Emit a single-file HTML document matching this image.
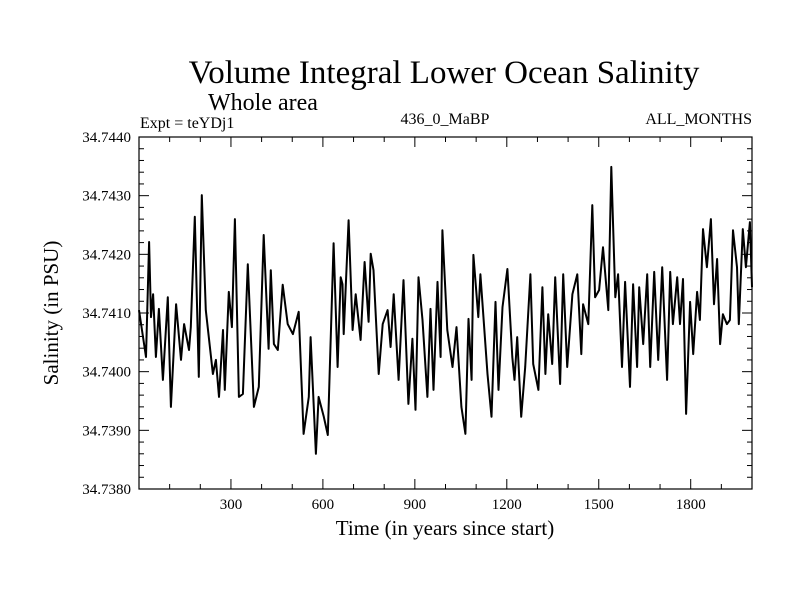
<!DOCTYPE html>
<html><head><meta charset="utf-8"><style>
body{margin:0;background:#fff;}
svg{display:block;font-family:"Liberation Serif",serif;}
</style></head><body>
<svg id="chart" width="800" height="600">
<text x="444" y="83" font-size="33" text-anchor="middle">Volume Integral Lower Ocean Salinity</text>
<text x="263" y="110" font-size="24" text-anchor="middle">Whole area</text>
<text x="140" y="128" font-size="16">Expt = teYDj1</text>
<text x="445" y="124" font-size="16" text-anchor="middle">436_0_MaBP</text>
<text x="752" y="124" font-size="16" text-anchor="end">ALL_MONTHS</text>
<text x="445" y="535" font-size="21" text-anchor="middle">Time (in years since start)</text>
<text transform="translate(58,313) rotate(-90)" font-size="21" text-anchor="middle">Salinity (in PSU)</text>
<g id="ticks"></g>
<g id="series"></g>
<rect x="139" y="137" width="613" height="352" fill="none" stroke="#000" stroke-width="1.2"/>
</svg>
<script>
const years=[0,23,33,39,46,55,65,78,94,104,121,137,147,163,169,182,195,205,218,241,251,261,274,280,293,303,313,326,339,355,375,391,407,423,430,440,453,469,485,502,521,537,554,560,577,586,603,616,635,648,658,664,668,684,697,707,723,736,749,756,765,782,795,811,821,831,847,863,879,892,902,912,925,941,951,961,974,984,990,1006,1023,1036,1052,1065,1075,1085,1091,1107,1114,1137,1150,1163,1173,1186,1202,1218,1225,1234,1247,1260,1277,1286,1303,1316,1326,1335,1348,1358,1374,1384,1397,1414,1430,1443,1449,1466,1479,1488,1501,1514,1531,1541,1554,1563,1576,1586,1602,1612,1625,1632,1645,1658,1668,1681,1694,1707,1723,1733,1742,1756,1765,1775,1785,1798,1808,1821,1830,1840,1853,1866,1876,1886,1896,1905,1918,1928,1938,1951,1957,1970,1980,1993,2000];
const salinity=[34.74105,34.74025,34.74221,34.74093,34.74132,34.74025,34.74107,34.73986,34.74127,34.7394,34.74115,34.7402,34.74081,34.74037,34.74076,34.74264,34.73991,34.74301,34.74105,34.73996,34.7402,34.73957,34.74071,34.73969,34.74136,34.74076,34.7426,34.73957,34.73962,34.74183,34.7394,34.73974,34.74233,34.74039,34.74173,34.74047,34.74037,34.74148,34.74081,34.74064,34.74102,34.73894,34.73957,34.74059,34.7386,34.73957,34.73923,34.73892,34.74219,34.74008,34.74161,34.74149,34.74064,34.74258,34.74071,34.74132,34.74054,34.74187,34.74085,34.74201,34.74173,34.73996,34.74081,34.74105,34.74042,34.74132,34.73986,34.74156,34.73945,34.74056,34.73935,34.74161,34.74088,34.73957,34.74107,34.73969,34.74153,34.74025,34.74241,34.74071,34.74008,34.74076,34.7394,34.73894,34.7409,34.73986,34.74199,34.74093,34.74166,34.73996,34.73923,34.74119,34.73969,34.7411,34.74175,34.74025,34.73986,34.74059,34.73923,34.74008,34.74166,34.74013,34.73969,34.74144,34.73996,34.74098,34.74013,34.74161,34.73979,34.74166,34.74008,34.74132,34.74166,34.7403,34.74115,34.74081,34.74284,34.74127,34.74139,34.74212,34.74105,34.74349,34.74127,34.74166,34.74008,34.74153,34.73974,34.74149,34.74008,34.74144,34.74047,34.74166,34.74008,34.7417,34.7402,34.74178,34.73986,34.7417,34.74081,34.74161,34.74081,34.74158,34.73928,34.74119,34.7403,34.74136,34.74088,34.74243,34.74178,34.7426,34.74115,34.74192,34.74047,34.74098,34.74081,34.74088,34.74241,34.74178,34.74081,34.74243,34.74178,34.74255,34.74144];
const yTickVals=[34.738,34.739,34.740,34.741,34.742,34.743,34.744];
const yTickLabels=["34.7380","34.7390","34.7400","34.7410","34.7420","34.7430","34.7440"];
const xTickVals=[300,600,900,1200,1500,1800];
const xTickLabels=["300","600","900","1200","1500","1800"];
const X0=139,X1=752,Y0=489,Y1=137;
const xMin=0,xMax=2000,yMin=34.738,yMax=34.744;
function xs(v){return X0+(v-xMin)/(xMax-xMin)*(X1-X0);}
function ys(v){return Y0-(v-yMin)/(yMax-yMin)*(Y0-Y1);}
const NS="http://www.w3.org/2000/svg";
const tg=document.getElementById('ticks');
function line(x1,y1,x2,y2,name){const l=document.createElementNS(NS,'line');l.setAttribute('x1',x1);l.setAttribute('y1',y1);l.setAttribute('x2',x2);l.setAttribute('y2',y2);l.setAttribute('stroke','#000');l.setAttribute('stroke-width','1');


tg.appendChild(l);}
for(let k=0;k<=30;k++){const v=yMin+k*0.0002;const y=ys(v);const len=(k%5===0)?10:5;line(X0,y,X0+len,y,'y-tick');line(X1,y,X1-len,y,'y-tick-right');}
for(let k=1;k<20;k++){const v=k*100;const x=xs(v);const len=(v%300===0)?10:5;line(x,Y0,x,Y0-len,'x-tick');line(x,Y1,x,Y1+len,'x-tick-top');}
yTickVals.forEach((v,i)=>{const t=document.createElementNS(NS,'text');t.setAttribute('x',X0-8);t.setAttribute('y',ys(v)+5);t.setAttribute('font-size','15');t.setAttribute('text-anchor','end');t.textContent=yTickLabels[i];


tg.appendChild(t);});
xTickVals.forEach((v,i)=>{const t=document.createElementNS(NS,'text');t.setAttribute('x',xs(v));t.setAttribute('y',Y0+20);t.setAttribute('font-size','15');t.setAttribute('text-anchor','middle');t.textContent=xTickLabels[i];


tg.appendChild(t);});
const p=document.createElementNS(NS,'polyline');
p.setAttribute('points',years.map((yr,i)=>xs(yr).toFixed(1)+','+ys(salinity[i]).toFixed(1)).join(' '));
p.setAttribute('fill','none');p.setAttribute('stroke','#000');p.setAttribute('stroke-width','2');p.setAttribute('stroke-linejoin','round');


document.getElementById('series').appendChild(p);
</script>
</body></html>
